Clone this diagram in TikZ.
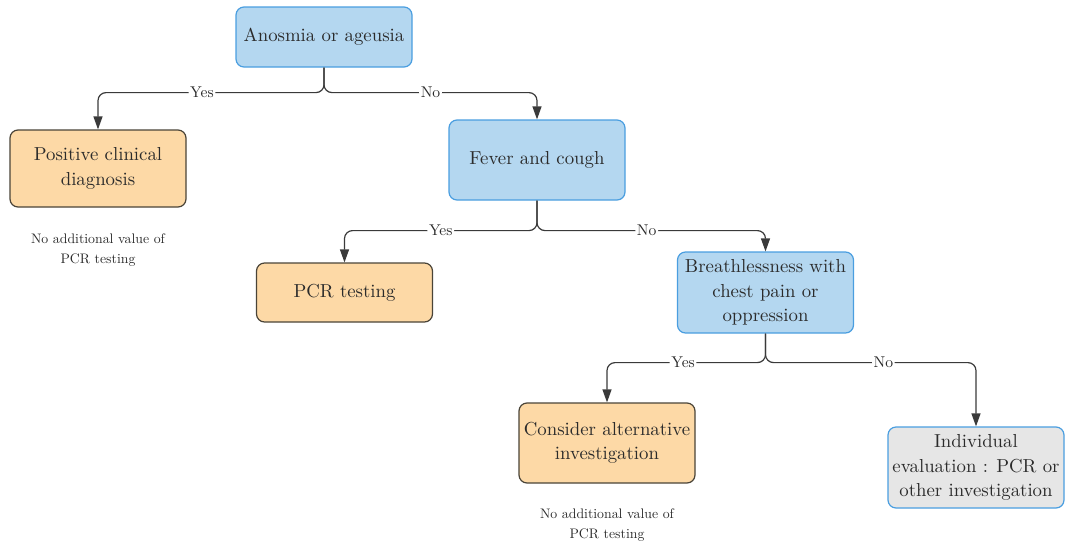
\documentclass[tikz,border=0pt]{standalone}
\usepackage{fontspec}
\newfontfamily\notefont{lmroman10-regular.otf}
\usepackage{tikz}
\usetikzlibrary{positioning,arrows.meta}

\definecolor{qblue}{HTML}{B4D7F0}
\definecolor{qblueedge}{HTML}{4A9EE0}
\definecolor{qorange}{HTML}{FDD9A6}
\definecolor{qorangeedge}{HTML}{4A4438}
\definecolor{qgrey}{HTML}{E6E6E6}
\definecolor{qtext}{HTML}{2B2B2B}
\definecolor{qline}{HTML}{3A3A3A}

\begin{document}
\begin{tikzpicture}[x=0.5pt,y=-0.5pt,
    box/.style={rounded corners=4pt, line width=0.6pt, align=center,
        minimum width=88pt, inner xsep=2pt, text=qtext,
        font=\notefont\fontsize{9.4}{12.2}\selectfont},
    question/.style={box, draw=qblueedge, fill=qblue},
    outcome/.style={box, draw=qorangeedge, fill=qorange},
    other/.style={box, draw=qblueedge, fill=qgrey},
    note/.style={align=center, text=qtext, font=\notefont\fontsize{6.9}{10}\selectfont},
    lab/.style={fill=white, inner sep=0.8pt, text=qtext, font=\notefont\fontsize{7.8}{9}\selectfont},
    link/.style={draw=qline, line width=0.6pt, rounded corners=4pt,
        -{Triangle[length=6.5pt,width=4.5pt]}}]
    \useasboundingbox (0,0) rectangle (1072,547);

    \node[question, minimum height=30pt] (ano) at (324,37) {Anosmia or ageusia};
    \node[outcome, minimum height=38.5pt] (pos) at (98,168.5) {Positive clinical\\diagnosis};
    \node[note] (pos-n) at (98,250) {No additional value of\\PCR testing};

    \node[question, minimum height=40pt] (fev) at (537,160) {Fever and cough};
    \node[outcome, minimum height=29.5pt] (pcr) at (344.5,292.5) {PCR testing};

    \node[question, minimum height=40.5pt] (bre) at (765.5,292.5) {Breathlessness with\\chest pain or\\oppression};
    \node[outcome, minimum height=40pt] (alt) at (607,443) {Consider alternative\\investigation};
    \node[note] (alt-n) at (607,525) {No additional value of\\PCR testing};
    \node[other, minimum height=40.5pt] (ind) at (976,467.5) {Individual\\evaluation : PCR or\\other investigation};

    % branches
    \draw[link] (ano.south) -- ++(0,25) -| node[lab, pos=0.27] {Yes} (pos.north);
    \draw[link] (ano.south) -- ++(0,25) -| node[lab, pos=0.25] {No} (fev.north);
    \draw[link] (fev.south) -- ++(0,30) -| node[lab, pos=0.25] {Yes} (pcr.north);
    \draw[link] (fev.south) -- ++(0,30) -| node[lab, pos=0.24] {No} (bre.north);
    \draw[link] (bre.south) -- ++(0,29) -| node[lab, pos=0.26] {Yes} (alt.north);
    \draw[link] (bre.south) -- ++(0,29) -| node[lab, pos=0.28] {No} (ind.north);
\end{tikzpicture}
\end{document}
